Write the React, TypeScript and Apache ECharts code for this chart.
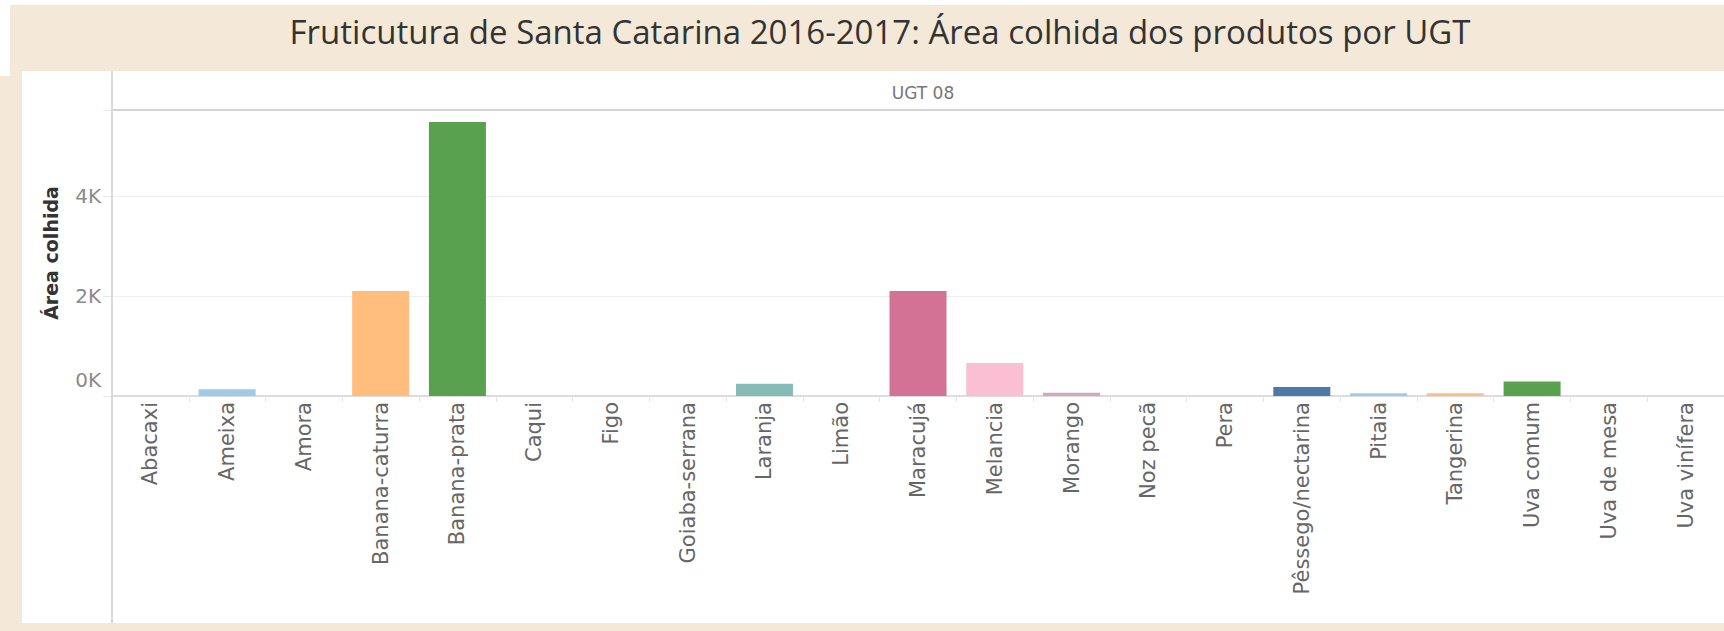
import React, { useEffect, useRef } from "react";
import * as echarts from "echarts";

const chartTitle = "Fruticutura de Santa Catarina 2016-2017: Área colhida dos produtos por UGT";
const panelLabel = "UGT 08";
const yAxisTitle = "Área colhida";

const categories = [
  "Abacaxi", "Ameixa", "Amora", "Banana-caturra", "Banana-prata", "Caqui", "Figo",
  "Goiaba-serrana", "Laranja", "Limão", "Maracujá", "Melancia", "Morango", "Noz pecã",
  "Pera", "Pêssego/nectarina", "Pitaia", "Tangerina", "Uva comum", "Uva de mesa", "Uva vinífera",
];
const areaColhida = [0, 135, 0, 2100, 5480, 0, 0, 0, 245, 0, 2100, 660, 65, 0, 0, 180, 55, 55, 290, 0, 0];
const barColors = [
  "#4e79a7", "#a0cbe8", "#f28e2b", "#ffbe7d", "#59a14f", "#8cd17d", "#b6992d",
  "#f1ce63", "#86bcb6", "#e15759", "#d37295", "#fabfd2", "#d4a6c8", "#79706e",
  "#bab0ac", "#4e79a7", "#a0cbe8", "#ffbe7d", "#59a14f", "#a0cbe8", "#ffbe7d",
];
const yMax = 5720;
const yInterval = 2000;

export default function App() {
  const ref = useRef<HTMLDivElement>(null);
  useEffect(() => {
    if (!ref.current) return;
    const chart = echarts.init(ref.current, null, { renderer: "svg" });
    const beige = "#f4e9d8";
    const catW = 77.4;
    chart.setOption({
      animation: false,
      backgroundColor: "#ffffff",
      graphic: [
        { type: "rect", shape: { x: 10, y: 5, width: 1714, height: 66 }, style: { fill: beige }, silent: true },
        { type: "rect", shape: { x: 10, y: 71, width: 12, height: 5 }, style: { fill: beige }, silent: true },
        { type: "rect", shape: { x: 0, y: 76, width: 22, height: 555 }, style: { fill: beige }, silent: true },
        { type: "rect", shape: { x: 0, y: 623, width: 1724, height: 8 }, style: { fill: beige }, silent: true },
        {
          type: "text", x: 880, y: 31,
          style: {
            text: chartTitle, fill: "#333333", font: '33px "Open Sans"',
            textAlign: "center", textVerticalAlign: "middle",
          },
          silent: true,
        },
        {
          type: "text", x: 923, y: 93,
          style: {
            text: panelLabel, fill: "#777777", font: '17px "DejaVu Sans"',
            textAlign: "center", textVerticalAlign: "middle",
          },
          silent: true,
        },
        { type: "line", shape: { x1: 112, y1: 71, x2: 112, y2: 623 }, style: { stroke: "#d9d9d9", lineWidth: 2 }, silent: true, z: 10 },
      ],
      grid: { left: 112, top: 110, width: catW * categories.length, height: 286 },
      xAxis: [
        {
          type: "category",
          data: categories,
          axisLine: { show: true, lineStyle: { color: "#dcdcdc", width: 2 } },
          axisTick: { show: true, length: 6, lineStyle: { color: "#e6e6e6" } },
          axisLabel: {
            rotate: 90, margin: 6, interval: 0,
            color: "#666666", fontSize: 21, fontFamily: "DejaVu Sans",
          },
        },
        {
          type: "category",
          position: "top",
          data: categories,
          axisLine: { show: true, lineStyle: { color: "#d4d4d4", width: 2 } },
          axisTick: { show: false },
          axisLabel: { show: false },
        },
      ],
      yAxis: {
        type: "value",
        min: 0,
        max: yMax,
        interval: yInterval,
        name: yAxisTitle,
        nameLocation: "middle",
        nameGap: 52,
        nameRotate: 90,
        nameTextStyle: { color: "#333333", fontSize: 19, fontWeight: "bold", fontFamily: "DejaVu Sans" },
        axisLine: { show: false },
        axisTick: { show: true, length: 9, lineStyle: { color: "#e8e8e8" } },
        splitLine: { show: true, lineStyle: { color: "#efefef", width: 1 } },
        axisLabel: {
          margin: 11,
          color: "#8a8a8a",
          fontSize: 20,
          fontFamily: "DejaVu Sans",
          formatter: (v: number) => {
            if (v % yInterval !== 0) return "";
            if (v === 0) return "{z|0K}";
            return `${v / 1000}K`;
          },
          rich: {
            z: { color: "#8a8a8a", fontSize: 20, fontFamily: "DejaVu Sans", padding: [0, 0, 32, 0] },
          },
        },
      },
      series: [
        {
          type: "bar",
          data: areaColhida.map((v, i) => ({ value: v, itemStyle: { color: barColors[i] } })),
          barWidth: 57,
          xAxisIndex: 0,
        },
      ],
    });
    return () => chart.dispose();
  }, []);
  return (
    <div
      ref={ref}
      style={{ position: "fixed", left: 0, top: 0, width: 1724, height: 631 }}
    />
  );
}
